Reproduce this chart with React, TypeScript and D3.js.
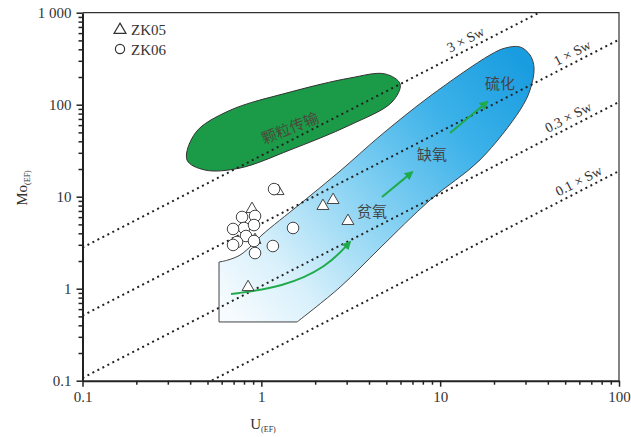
import React, { useRef, useEffect } from "react";
import * as d3 from "d3";

const WIDTH = 631;
const HEIGHT = 437;

// axis ticks
const xTicks = [0.1, 1, 10, 100];
const xTickLabels = ["0.1", "1", "10", "100"];
const yTicks = [0.1, 1, 10, 100, 1000];
const yTickLabels = ["0.1", "1", "10", "100", "1 000"];

// seawater Mo/U reference lines (Mo = ratio * U)
const swRatios = [28, 5.1, 1.07, 0.19];
const swLabels = ["3 × Sw", "1 × Sw", "0.3 × Sw", "0.1 × Sw"];
const swLabelU = [14.7, 58, 55, 63];

// particulate shuttle field (green)
const shuttleU = [0.384, 0.43, 0.66, 1.447, 3.13, 4.92, 5.97, 5.38, 3.13, 1.447, 0.76, 0.484];
const shuttleMo = [25.1, 50, 86, 137, 195, 216, 168, 107, 60.1, 32.2, 20.5, 19.5];

// open-marine field (blue), from top of left edge round to bottom-right corner
const fieldU = [0.58, 0.651, 0.76, 0.887, 1.009, 1.646, 2.755, 4.61, 8.78, 19.0, 23.1, 28.0, 31.8, 33.5, 31.8, 28.0, 16.7, 8.78, 4.61, 2.755, 1.584];
const fieldMo = [1.95, 2.05, 2.32, 2.98, 3.84, 8.33, 19.0, 45.7, 124, 347, 413, 424, 347, 251, 144.5, 87.7, 25.1, 9.2, 2.77, 1.04, 0.435];
const fieldCorner = [0.58, 0.435];

// trend arrows
const curveArrowU = [0.677, 1.32, 2.33, 3.13];
const curveArrowMo = [0.875, 1.04, 1.72, 3.22];
const straightArrows = [
  { u: [4.73, 6.97], mo: [9.93, 18.5] },
  { u: [11.35, 18.3], mo: [49.2, 107] },
];

// region labels
const zoneNames = ["贫氧", "缺氧", "硫化"];
const zoneU = [4.16, 9.0, 21.6];
const zoneMo = [6.82, 28.4, 168];
const shuttleName = "颗粒传输";

// samples
const zk05U = [0.887, 0.843, 1.24, 2.21, 2.52, 3.05, 0.922];
const zk05Mo = [7.35, 1.04, 11.5, 7.92, 9.2, 5.44, 3.38];
const zk06U = [1.178, 1.504, 1.16, 0.78, 0.922, 0.8, 0.91, 0.695, 0.821, 0.731, 0.695, 0.91, 0.922];
const zk06Mo = [12.1, 4.57, 2.91, 6.02, 6.17, 4.57, 4.92, 4.46, 3.74, 3.22, 2.99, 3.3, 2.44];

const SERIF = "'Liberation Serif', 'Times New Roman', serif";
const CJK = "'Noto Sans CJK SC', sans-serif";

const MoUChart = () => {
  const svgRef = useRef(null);

  useEffect(() => {
    const svg = d3.select(svgRef.current);
    svg.selectAll("*").remove();

    const left = 82.5, right = 619, top = 12.7, bottom = 380.7;
    const x = d3.scaleLog().domain([0.1, 100]).range([left, right]);
    const y = d3.scaleLog().domain([0.1, 1000]).range([bottom, top]);

    const defs = svg.append("defs");
    defs.append("clipPath").attr("id", "plotClip")
      .append("rect")
      .attr("x", left).attr("y", top)
      .attr("width", right - left).attr("height", bottom - top);

    const grad = defs.append("linearGradient")
      .attr("id", "fieldGrad")
      .attr("gradientUnits", "userSpaceOnUse")
      .attr("x1", x(0.7)).attr("y1", y(0.5))
      .attr("x2", x(28)).attr("y2", y(300));
    [["0%", "#f6fbfe"], ["18%", "#d8f0fb"], ["45%", "#8ad3f3"], ["75%", "#3db2e9"], ["100%", "#1a9de0"]]
      .forEach(([o, c]) => grad.append("stop").attr("offset", o).attr("stop-color", c));

    defs.append("marker")
      .attr("id", "arrowHead")
      .attr("viewBox", "0 0 10 10")
      .attr("refX", 8).attr("refY", 5)
      .attr("markerWidth", 4.5).attr("markerHeight", 4.5)
      .attr("orient", "auto")
      .append("path")
      .attr("d", "M0,0 L10,5 L0,10 Z")
      .attr("fill", "#1faa4c");

    // frame (top / right)
    svg.append("path")
      .attr("d", `M${left},${top} H${right} V${bottom}`)
      .attr("fill", "none")
      .attr("stroke", "#333")
      .attr("stroke-width", 1.2);

    const plot = svg.append("g").attr("clip-path", "url(#plotClip)");

    // blue field
    const curveLine = d3.line().x(d => x(d[0])).y(d => y(d[1])).curve(d3.curveCatmullRom.alpha(0.5));
    const fieldPts = fieldU.map((u, i) => [u, fieldMo[i]]);
    const fieldPath = curveLine(fieldPts) + `L${x(fieldCorner[0])},${y(fieldCorner[1])}Z`;
    plot.append("path")
      .attr("d", fieldPath)
      .attr("fill", "url(#fieldGrad)")
      .attr("stroke", "#444")
      .attr("stroke-width", 1);

    // green shuttle field
    const blobLine = d3.line().x(d => x(d[0])).y(d => y(d[1])).curve(d3.curveCatmullRomClosed.alpha(0.5));
    plot.append("path")
      .attr("d", blobLine(shuttleU.map((u, i) => [u, shuttleMo[i]])))
      .attr("fill", "#1b9a48")
      .attr("stroke", "#333")
      .attr("stroke-width", 1);

    // Sw lines
    swRatios.forEach((r, i) => {
      plot.append("line")
        .attr("x1", x(0.1)).attr("y1", y(0.1 * r))
        .attr("x2", x(100)).attr("y2", y(100 * r))
        .attr("stroke", "#222")
        .attr("stroke-width", 2)
        .attr("stroke-dasharray", "2 3.6");
      const angle = Math.atan2(y(100 * r) - y(0.1 * r), x(100) - x(0.1)) * 180 / Math.PI;
      const u = swLabelU[i];
      svg.append("text")
        .attr("transform", `translate(${x(u)},${y(u * r)}) rotate(${angle})`)
        .attr("dy", -5)
        .attr("text-anchor", "middle")
        .style("font-family", SERIF)
        .style("font-size", "14px")
        .style("fill", "#333")
        .text(swLabels[i]);
    });

    // arrows
    plot.append("path")
      .attr("d", d3.line().x(d => x(d[0])).y(d => y(d[1])).curve(d3.curveBasis)(curveArrowU.map((u, i) => [u, curveArrowMo[i]])))
      .attr("fill", "none")
      .attr("stroke", "#1faa4c")
      .attr("stroke-width", 2)
      .attr("marker-end", "url(#arrowHead)");
    straightArrows.forEach(a => {
      plot.append("line")
        .attr("x1", x(a.u[0])).attr("y1", y(a.mo[0]))
        .attr("x2", x(a.u[1])).attr("y2", y(a.mo[1]))
        .attr("stroke", "#1faa4c")
        .attr("stroke-width", 2)
        .attr("marker-end", "url(#arrowHead)");
    });

    // region labels
    zoneNames.forEach((n, i) => {
      svg.append("text")
        .attr("x", x(zoneU[i])).attr("y", y(zoneMo[i]))
        .attr("dy", "0.36em")
        .attr("text-anchor", "middle")
        .style("font-family", CJK)
        .style("font-size", "15px")
        .style("fill", "#444")
        .text(n);
    });
    svg.append("text")
      .attr("transform", `translate(${x(1.447)},${y(55.8)}) rotate(-22)`)
      .attr("dy", "0.36em")
      .attr("text-anchor", "middle")
      .style("font-family", CJK)
      .style("font-size", "15px")
      .style("fill", "#4a4a3a")
      .text(shuttleName);

    // samples
    const tri = d3.symbol().type(d3.symbolTriangle).size(62);
    svg.selectAll(".zk05")
      .data(zk05U)
      .enter()
      .append("path")
      .attr("class", "zk05")
      .attr("d", tri)
      .attr("transform", (d, i) => `translate(${x(d)},${y(zk05Mo[i])})`)
      .attr("fill", "#fff")
      .attr("stroke", "#444")
      .attr("stroke-width", 1);
    svg.selectAll(".zk06")
      .data(zk06U)
      .enter()
      .append("circle")
      .attr("class", "zk06")
      .attr("cx", d => x(d))
      .attr("cy", (d, i) => y(zk06Mo[i]))
      .attr("r", 5.8)
      .attr("fill", "#fff")
      .attr("stroke", "#444")
      .attr("stroke-width", 1);

    // legend
    svg.append("path").attr("d", tri).attr("transform", "translate(120,30)")
      .attr("fill", "#fff").attr("stroke", "#333").attr("stroke-width", 1.2);
    svg.append("circle").attr("cx", 120).attr("cy", 49).attr("r", 4.6)
      .attr("fill", "#fff").attr("stroke", "#333").attr("stroke-width", 1.2);
    [["ZK05", 34.5], ["ZK06", 54.5]].forEach(([t, yy]) => {
      svg.append("text")
        .attr("x", 131).attr("y", yy)
        .style("font-family", SERIF)
        .style("font-size", "15px")
        .style("fill", "#333")
        .text(t);
    });

    // axes
    const minorX = [];
    const minorY = [];
    for (let e = -1; e < 3; e++) {
      for (let m = 2; m <= 9; m++) {
        if (e < 2) minorX.push(m * Math.pow(10, e));
        minorY.push(m * Math.pow(10, e));
      }
    }

    const xAxis = svg.append("g").attr("transform", `translate(0,${bottom})`);
    xAxis.call(d3.axisBottom(x).tickValues(minorX).tickSize(4).tickFormat(() => "").tickSizeOuter(0));
    xAxis.call(g => g.select(".domain").remove());
    const xMajor = svg.append("g").attr("transform", `translate(0,${bottom})`)
      .call(d3.axisBottom(x).tickValues(xTicks).tickSize(6).tickPadding(5)
        .tickFormat((d, i) => xTickLabels[i]).tickSizeOuter(0));
    xMajor.select(".domain").attr("stroke-width", 2).attr("stroke", "#222");
    xMajor.selectAll("text").style("font-family", SERIF).style("font-size", "15px").style("fill", "#333");

    const yAxis = svg.append("g").attr("transform", `translate(${left},0)`);
    yAxis.call(d3.axisLeft(y).tickValues(minorY).tickSize(4).tickFormat(() => "").tickSizeOuter(0));
    yAxis.call(g => g.select(".domain").remove());
    const yMajor = svg.append("g").attr("transform", `translate(${left},0)`)
      .call(d3.axisLeft(y).tickValues(yTicks).tickSize(6).tickPadding(5)
        .tickFormat((d, i) => yTickLabels[i]).tickSizeOuter(0));
    yMajor.select(".domain").attr("stroke-width", 2).attr("stroke", "#222");
    yMajor.selectAll("text").style("font-family", SERIF).style("font-size", "15px").style("fill", "#333");
    svg.selectAll(".tick line").attr("stroke", "#222").attr("stroke-width", 1.5);

    // axis titles
    const xt = svg.append("text")
      .attr("x", 263).attr("y", 429)
      .attr("text-anchor", "middle")
      .style("font-family", SERIF)
      .style("font-size", "15px")
      .style("fill", "#333");
    xt.append("tspan").text("U");
    xt.append("tspan").attr("dy", 3).style("font-size", "8px").text("(EF)");

    const yt = svg.append("text")
      .attr("transform", "translate(27,188) rotate(-90)")
      .attr("text-anchor", "middle")
      .style("font-family", SERIF)
      .style("font-size", "15px")
      .style("fill", "#333");
    yt.append("tspan").text("Mo");
    yt.append("tspan").attr("dy", 3).style("font-size", "8px").text("(EF)");
  }, []);

  return (
    <svg
      ref={svgRef}
      width={WIDTH}
      height={HEIGHT}
      style={{ position: "absolute", left: 0, top: 0, background: "#fff" }}
    />
  );
};

export default function App() {
  return <MoUChart />;
}
